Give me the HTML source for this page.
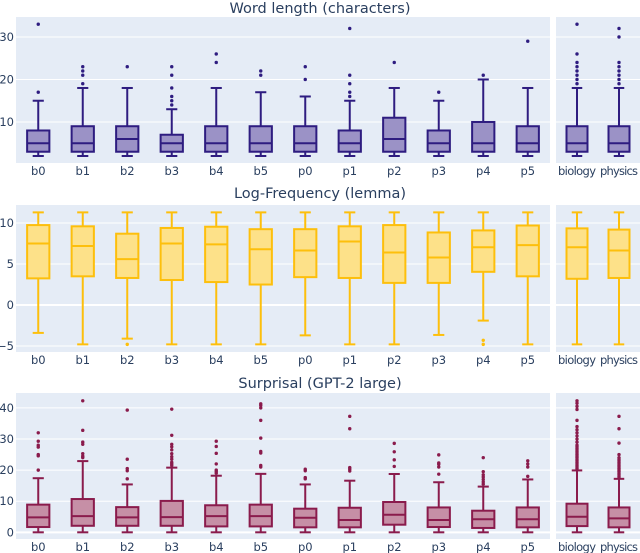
<!DOCTYPE html>
<html><head><meta charset="utf-8"><style>
body{margin:0;background:#fff;}
svg{display:block;font-family:"DejaVu Sans","Liberation Sans",sans-serif;}
</style></head><body>
<svg id="c" width="640" height="553"></svg>
<script>
const categoriesMain = ["b0","b1","b2","b3","b4","b5","p0","p1","p2","p3","p4","p5"];
const categoriesSide = ["biology","physics"];
// [min, q1, median, q3, max]
const wordLenStats = [[2,3,5,8,15],[2,3,5,9,18],[2,3,6,9,18],[2,3,5,7,13],[2,3,5,9,18],[2,3,5,9,17],[2,3,5,9,16],[2,3,5,8,15],[2,3,6,11,18],[2,3,5,8,15],[2,3,5,10,20],[2,3,5,9,18],[2,3,5,9,18],[2,3,5,9,18]];
const wordLenOutliers = [[17,33],[19,21,22,23],[23],[14,15,16,18,21,23],[24,26],[21,22],[20,23],[16,17,19,21,32],[24],[17],[21],[29],[19,20,21,22,23,24,26,33],[19,20,21,22,23,24,30,32]];
const logFreqStats = [[-3.4,3.25,7.5,9.75,11.3],[-4.8,3.5,7.2,9.6,11.3],[-4.1,3.3,5.6,8.7,11.3],[-4.8,3.05,7.5,9.4,11.3],[-4.8,2.8,7.4,9.55,11.3],[-4.8,2.5,6.8,9.25,11.3],[-3.7,3.4,6.65,9.25,11.3],[-4.8,3.3,7.75,9.6,11.3],[-4.8,2.7,6.4,9.75,11.3],[-3.65,2.7,5.8,8.85,11.3],[-1.9,4.05,7.05,9.1,11.3],[-4.8,3.5,7.3,9.7,11.3],[-4.8,3.2,7.05,9.35,11.3],[-4.8,3.3,6.65,9.2,11.3]];
const logFreqOutliers = [[],[],[-4.8],[],[],[],[],[],[],[],[-4.3,-4.8],[],[],[]];
const surprisalStats = [[0,1.7,4.8,8.9,17.4],[0,2.1,5.2,10.7,22.9],[0,2.1,4.8,8.1,15.4],[0,2.1,4.9,10.1,20.8],[0,1.9,5.2,8.7,18.2],[0,1.9,5.2,8.9,18.8],[0,1.6,4.7,7.6,15.4],[0,1.6,3.95,7.9,16.6],[0,2.45,5.65,9.75,18.75],[0,1.7,3.95,8.0,16.1],[0,1.4,4.2,6.95,14.7],[0,1.6,4.2,8.0,17.0],[0,2.0,5.0,9.2,19.9],[0,1.6,4.5,8.0,17.2]];
const surprisalOutliers = [[20,24.6,25,27.4,28,29.3,32],[24,24.5,25.3,28.3,29,32.8,42.3],[17.2,19.8,20.5,23.5,39.3],[21.5,22,22.5,23.5,24.3,25.3,26.5,27.5,28.3,31.2,39.6],[19,19.5,20,22,25.4,27.6,29.3],[21,21.5,25.5,26,30.3,36,40,40.8,41.3],[17.2,17.6,19.8,20.3],[19.7,20.3,20.8,33.3,37.3],[21.2,23.3,25.9,28.6],[18.7,21,21.9,22.3,24.9],[15.5,16.2,17,17.8,18.5,19.5,24],[18,21,22,23],[20.5,21,21.5,22,22.5,23,23.5,24,24.5,25,25.5,26,26.5,27,27.5,28,29,30,31,32,33,34,36,39.5,40.5,41.5,42.3],[17.5,18,18.5,19,19.5,20,20.5,21,21.5,22,22.5,23,23.5,24,25,28.7,33.3,37.3]];
const wordLenTicks = [10,20,30];
const logFreqTicks = [-5,0,5,10];
const surprisalTicks = [0,10,20,30,40];

const NS="http://www.w3.org/2000/svg";
const svg=document.getElementById('c');
function mk(tag,attrs,parent){const e=document.createElementNS(NS,tag);for(const k in attrs)e.setAttribute(k,attrs[k]);(parent||svg).appendChild(e);return e;}

const panels=[
 {title:"Word length (characters)",titleY:13,top:17,bot:163,vLo:0.35,vHi:34.7,stats:wordLenStats,outs:wordLenOutliers,ticks:wordLenTicks,line:"#2e1c80",fill:"#9b92c6",name:"word-length"},
 {title:"Log-Frequency (lemma)",titleY:198,top:205,bot:352,vLo:-5.73,vHi:12.2,stats:logFreqStats,outs:logFreqOutliers,ticks:logFreqTicks,line:"#fdbf0c",fill:"#fde189",name:"log-frequency"},
 {title:"Surprisal (GPT-2 large)",titleY:388,top:393,bot:539,vLo:-2.15,vHi:44.8,stats:surprisalStats,outs:surprisalOutliers,ticks:surprisalTicks,line:"#8a1b4c",fill:"#c68fa6",name:"surprisal"}
];
const mainX0=16,mainX1=550,sideX0=556,sideX1=640;

panels.forEach(p=>{
  const g=mk('g',{});
  
  
  const y=v=>p.bot-(v-p.vLo)/(p.vHi-p.vLo)*(p.bot-p.top);
  const t=mk('text',{x:320,y:p.titleY,'text-anchor':'middle','font-size':14.5,fill:'#2a3f5f'},g);
  t.textContent=p.title;
  
  
  [[mainX0,mainX1,categoriesMain,0],[sideX0,sideX1,categoriesSide,categoriesMain.length]].forEach(([x0,x1,cats,off],si)=>{
    const bg=mk('rect',{x:x0,y:p.top,width:x1-x0,height:p.bot-p.top,fill:'#e5ecf6'},g);
    
    
    p.ticks.forEach(tv=>{
      const gl=mk('line',{x1:x0,x2:x1,y1:y(tv),y2:y(tv),stroke:'#fff','stroke-width':tv===0&&p.vLo<0?2:1},g);
      
      
      if(si===0){
        const tl=mk('text',{x:14,y:y(tv)+4,'text-anchor':'end','font-size':11.5,fill:'#2a3f5f'},g);
        tl.textContent=tv<0?'\u2212'+Math.abs(tv):String(tv);
        
        
      }
    });
    const step=(x1-x0)/cats.length;
    cats.forEach((c,i)=>{
      const cx=x0+step*(i+0.5);
      const s=p.stats[off+i], bw=step*0.5, cw=bw*0.5;
      const bx=mk('g',{},g);
      
      
      mk('line',{x1:cx,x2:cx,y1:y(s[0]),y2:y(s[1]),stroke:p.line,'stroke-width':2},bx);
      mk('line',{x1:cx,x2:cx,y1:y(s[3]),y2:y(s[4]),stroke:p.line,'stroke-width':2},bx);
      mk('line',{x1:cx-cw/2,x2:cx+cw/2,y1:y(s[0]),y2:y(s[0]),stroke:p.line,'stroke-width':2},bx);
      mk('line',{x1:cx-cw/2,x2:cx+cw/2,y1:y(s[4]),y2:y(s[4]),stroke:p.line,'stroke-width':2},bx);
      mk('rect',{x:cx-bw/2,y:y(s[3]),width:bw,height:y(s[1])-y(s[3]),fill:p.fill,stroke:p.line,'stroke-width':2},bx);
      mk('line',{x1:cx-bw/2,x2:cx+bw/2,y1:y(s[2]),y2:y(s[2]),stroke:p.line,'stroke-width':2},bx);
      p.outs[off+i].forEach(o=>{
        const d=mk('circle',{cx:cx,cy:y(o),r:1.7,fill:p.line},bx);
        
        
      });
      const xl=mk('text',{x:cx,y:p.bot+12,'text-anchor':'middle','font-size':11.5,fill:'#2a3f5f'},g);
      if(si===1) xl.setAttribute('textLength', 38);
      xl.textContent=c;
      
      
    });
  });
});
</script>
</body></html>
